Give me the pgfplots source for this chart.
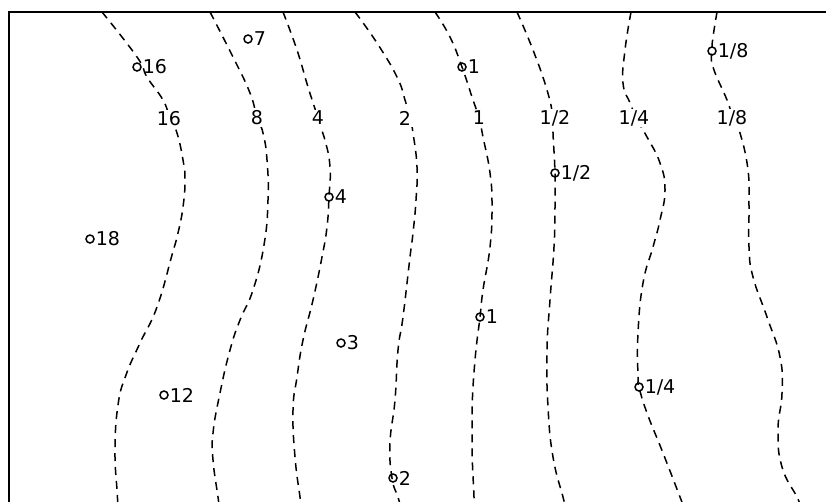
\documentclass[border=0pt]{standalone}
\usepackage{fontspec}
\setmainfont{DejaVu Sans}
\usepackage{pgfplots}
\pgfplotsset{compat=1.18}
\begin{document}
\begin{tikzpicture}
\begin{axis}[
  width=826pt, height=501pt, scale only axis,
  xmin=0, xmax=826, ymin=0, ymax=501, y dir=reverse,
  hide axis, clip=true,
  contour/.style={black, line width=1.5pt, dash pattern=on 8pt off 6pt, smooth, tension=0.8, no marks},
  lbl/.style={draw=none, no marks, point meta=explicit symbolic, nodes near coords,
     every node near coord/.append style={anchor=center, fill=white, inner sep=1.5pt, text=black, font=\fontsize{19}{22}\selectfont}},
  pts/.style={only marks, mark=o, mark size=4pt, black, mark options={line width=1.5pt, fill=white},
     point meta=explicit symbolic, nodes near coords,
     every node near coord/.append style={anchor=west, inner sep=0pt, xshift=5pt, text=black, font=\fontsize{19}{22}\selectfont}},
]
\path (rel axis cs:0,0) rectangle (rel axis cs:1,1);
% contour lines
\addplot[contour] coordinates {(102,12) (137,57) (147,77) (163,100) (170,118) (177,133) (183,160) (185,180) (183,207) (178,233) (172,255) (157,307) (140,343) (126,375) (118,405) (115,450) (117,490) (118,505)};
\addplot[contour] coordinates {(210,12) (233,57) (250,93) (257,118) (263,133) (267,160) (268,200) (264,245) (253,290) (240,320) (230,350) (220,393) (213,433) (213,460) (218,497) (219,505)};
\addplot[contour] coordinates {(283,12) (297,50) (308,87) (318,118) (325,140) (330,167) (329,197) (327,227) (322,257) (313,300) (303,340) (297,377) (293,410) (295,457) (300,497) (301,505)};
\addplot[contour] coordinates {(355,12) (377,43) (397,77) (405,100) (410,118) (413,133) (417,167) (416,200) (413,233) (410,257) (403,317) (398,350) (395,400) (390,443) (392,478) (398,497) (400,505)};
\addplot[contour] coordinates {(435,12) (450,37) (462,67) (472,97) (479,118) (483,137) (490,173) (492,207) (490,247) (483,290) (480,317) (475,360) (472,410) (472,450) (474,497) (474,505)};
\addplot[contour] coordinates {(517,12) (533,50) (547,90) (553,118) (553,133) (555,173) (555,207) (554,247) (550,300) (547,350) (548,407) (553,457) (563,497) (565,505)};
\addplot[contour] coordinates {(631,12) (625,50) (623,83) (630,103) (636,118) (647,137) (660,163) (665,190) (660,220) (653,247) (643,283) (638,333) (638,377) (639,387) (647,413) (663,453) (680,497) (683,505)};
\addplot[contour] coordinates {(717,12) (713,37) (712,50) (713,67) (727,100) (733,118) (740,133) (748,170) (749,207) (749,247) (753,277) (767,317) (780,357) (782,393) (778,430) (782,467) (797,497) (800,505)};
% contour labels
\addplot[lbl] coordinates {(169,119) [16] (257,118) [8] (318,118) [4] (405,118) [2] (479,118) [1] (555,118) [1/2] (634,118) [1/4] (732,118) [1/8]};
% measured points
\addplot[pts] coordinates {(137,67) [16] (248,39) [7] (90,239) [18] (329,197) [4] (462,67) [1] (555,173) [1/2] (712,51) [1/8] (480,317) [1] (341,343) [3] (164,395) [12] (639,387) [1/4] (393,478) [2]};
% frame
\draw[black, line width=1.3pt] (axis cs:9,505) -- (axis cs:9,12) -- (axis cs:830,12);
\end{axis}
\end{tikzpicture}
\end{document}
